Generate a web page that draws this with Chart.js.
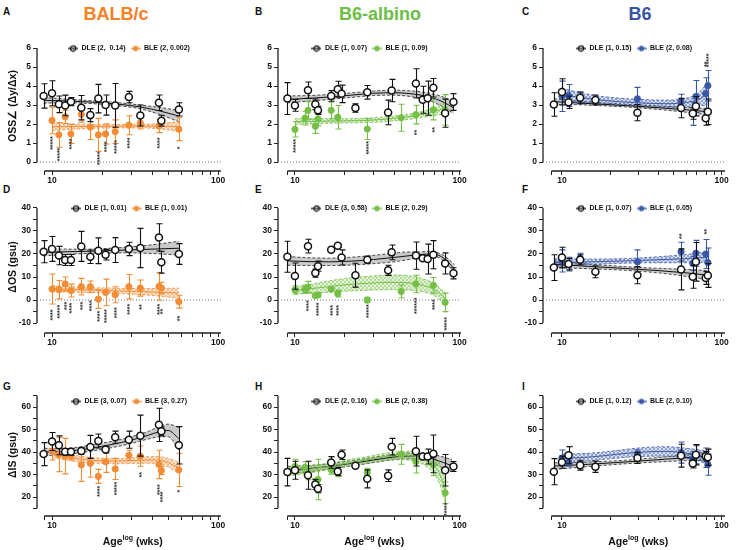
<!DOCTYPE html>
<html><head><meta charset="utf-8">
<script src="https://cdn.jsdelivr.net/npm/chart.js@4.4.1/dist/chart.umd.min.js"></script>
<style>
html,body{margin:0;padding:0;background:#fff}
#wrap{position:relative;width:736px;height:550px;overflow:hidden;font-family:"Liberation Sans",Arial,sans-serif}
.pl{position:absolute;font-weight:bold;font-size:10px;color:#111;line-height:1}
.ct{position:absolute;font-weight:bold;font-size:18px;line-height:1;transform:translateX(-50%);white-space:nowrap}
canvas{position:absolute}
</style></head><body><div id="wrap">
<div class="pl" style="left:3px;top:7px">A</div>
<div class="pl" style="left:255px;top:7px">B</div>
<div class="pl" style="left:522px;top:7px">C</div>
<div class="pl" style="left:3px;top:185px">D</div>
<div class="pl" style="left:255px;top:185px">E</div>
<div class="pl" style="left:522px;top:185px">F</div>
<div class="pl" style="left:3px;top:382px">G</div>
<div class="pl" style="left:255px;top:382px">H</div>
<div class="pl" style="left:522px;top:382px">I</div>
<div class="ct" style="left:116px;top:5px;color:#F58025">BALB/c</div>
<div class="ct" style="left:380px;top:5px;color:#6CBE45">B6-albino</div>
<div class="ct" style="left:640px;top:5px;color:#3953A5">B6</div>
</div>
<script>
// ---------- ages (weeks) ----------
const balbAgesDLE = [8.9, 10, 11, 12, 13, 15, 17, 19, 21, 24, 29, 34, 44, 45.5, 58];
const balbAgesBLE_A = [10, 11, 12, 13, 15, 17, 19, 21, 24, 29, 34, 44, 58];
const balbAgesBLE = [10, 11, 12, 13, 15, 17, 19, 21, 24, 29, 34, 44, 45.5, 58];
const b6aAgesDLE = [9, 10, 12, 13.3, 13.8, 16.6, 18.2, 19.2, 23.3, 27.5, 36.8, 38.7, 54.3, 59.7, 64, 69.3, 81.7, 91.8];
const b6aAgesBLE = [10, 11.5, 12, 13.3, 13.8, 16.6, 18.2, 27.5, 44.2, 54.3, 69.3, 81.7];
const b6AgesDLE = [8.9, 10, 11, 13, 16.2, 29.7, 55.7, 66, 69, 79.5, 82];
const b6AgesBLE = [10, 11, 13, 29.7, 55.7, 66, 69, 79.5, 82];

// ---------- tick values ----------
const xTickVals = [10, 20, 30, 40, 50, 60, 70, 80, 90, 100];
const xLabelVals = [10, 100];
const yTicksOSS = [0, 1, 2, 3, 4, 5, 6];
const yLabelsOSS = [0, 1, 2, 3, 4, 5, 6];
const yTicksOS = [-10, -5, 0, 5, 10, 15, 20, 25, 30, 35, 40];
const yLabelsOS = [-10, 0, 10, 20, 30, 40];
const yTicksIS = [15, 20, 25, 30, 35, 40, 45, 50, 55, 60, 65];
const yLabelsIS = [20, 30, 40, 50, 60];

// ---------- Panel A: OSS angle, BALB/c ----------
const A_DLE = [3.48, 3.62, 3.04, 2.98, 3.18, 2.86, 2.47, 3.34, 3.0, 2.98, 3.42, 2.45, 3.12, 2.18, 2.77];
const A_DLE_err = [0.64, 0.66, 0.44, 0.54, 0.22, 0.64, 0.34, 0.75, 0.53, 1.15, 0.3, 0.55, 0.41, 0.28, 0.35];
const A_BLE = [2.19, 1.43, 2.38, 1.48, 2.5, 1.84, 1.43, 1.48, 1.6, 1.94, 2.05, 1.9, 1.73];
const A_BLE_err = [0.7, 0.65, 0.35, 0.5, 0.4, 0.65, 0.87, 0.53, 0.62, 0.5, 0.31, 0.35, 0.6];
const A_fx_DLE = [8.9, 12, 16, 20, 26, 34, 44, 58];
const A_fit_DLE = [3.25, 3.22, 3.17, 3.12, 3.03, 2.9, 2.7, 2.42];
const A_lo_DLE = [3.1, 3.12, 3.09, 3.04, 2.95, 2.8, 2.52, 2.12];
const A_hi_DLE = [3.4, 3.32, 3.25, 3.2, 3.11, 3.0, 2.88, 2.72];
const A_fx_BLE = [10, 14, 20, 28, 40, 58];
const A_fit_BLE = [1.86, 1.87, 1.88, 1.89, 1.89, 1.87];
const A_lo_BLE = [1.66, 1.74, 1.79, 1.8, 1.78, 1.62];
const A_hi_BLE = [2.06, 2.0, 1.97, 1.98, 2.0, 2.12];
const A_starX = [10, 11, 13, 19, 21, 24, 29, 44, 58];
const A_starY = [1.0, 0.4, 0.95, 0.2, 0.8, 0.8, 1.0, 1.0, 0.75];
const A_starT = ['*****', '*****', '****', '*****', '****', '*****', '****', '****', '*'];
const A_legend = ['DLE (2,  0.14)', 'BLE (2, 0.002)'];

// ---------- Panel B: OSS angle, B6-albino ----------
const B_DLE = [3.34, 2.98, 3.78, 3.04, 2.72, 3.48, 3.83, 3.59, 2.84, 3.67, 2.61, 3.76, 4.14, 3.28, 3.36, 3.91, 2.57, 3.16];
const B_DLE_err = [0.84, 0.31, 0.43, 0.28, 0.22, 0.28, 0.42, 0.46, 0.22, 0.36, 0.65, 0.59, 0.77, 0.71, 0.9, 0.49, 0.74, 0.44];
const B_BLE = [1.72, 2.31, 2.72, 1.88, 2.27, 2.72, 2.36, 1.74, 2.33, 2.5, 2.75, 2.75];
const B_BLE_err = [0.4, 0.36, 0.46, 0.37, 0.36, 0.44, 0.62, 0.55, 0.71, 0.49, 0.53, 0.8];
const B_fx_DLE = [9, 12, 16, 22, 30, 40, 50, 60, 70, 80, 92];
const B_fit_DLE = [3.3, 3.35, 3.42, 3.52, 3.62, 3.65, 3.6, 3.5, 3.35, 3.15, 2.85];
const B_lo_DLE = [3.12, 3.2, 3.29, 3.4, 3.5, 3.52, 3.45, 3.32, 3.13, 2.88, 2.55];
const B_hi_DLE = [3.48, 3.5, 3.55, 3.64, 3.74, 3.78, 3.75, 3.68, 3.57, 3.42, 3.15];
const B_fx_BLE = [10, 14, 20, 28, 40, 55, 70, 82];
const B_fit_BLE = [2.12, 2.15, 2.17, 2.2, 2.3, 2.45, 2.65, 2.85];
const B_lo_BLE = [1.98, 2.03, 2.06, 2.08, 2.17, 2.3, 2.45, 2.55];
const B_hi_BLE = [2.28, 2.28, 2.28, 2.32, 2.43, 2.6, 2.85, 3.15];
const B_starX = [10, 27.5, 54.3, 69.3];
const B_starY = [0.85, 0.75, 1.55, 1.7];
const B_starT = ['*****', '*****', '**', '**'];
const B_legend = ['DLE (1, 0.07)', 'BLE (1, 0.09)'];

// ---------- Panel C: OSS angle, B6 ----------
const C_DLE = [3.03, 3.69, 3.15, 3.38, 3.27, 2.6, 2.84, 2.55, 2.94, 2.3, 2.65];
const C_DLE_err = [0.62, 0.69, 0.33, 0.31, 0.26, 0.43, 0.51, 0.3, 0.51, 0.36, 0.67];
const C_BLE = [3.46, 3.5, 3.4, 3.33, 3.17, 2.55, 3.45, 3.6, 4.02];
const C_BLE_err = [0.8, 0.58, 0.27, 0.6, 0.4, 0.62, 0.84, 0.84, 0.8];
const C_fx_DLE = [8.9, 12, 16, 25, 40, 60, 82];
const C_fit_DLE = [3.18, 3.12, 3.06, 2.97, 2.86, 2.75, 2.65];
const C_lo_DLE = [3.02, 3.02, 2.98, 2.9, 2.77, 2.62, 2.48];
const C_hi_DLE = [3.34, 3.22, 3.14, 3.04, 2.95, 2.88, 2.82];
const C_fx_BLE = [10, 13, 18, 30, 45, 60, 72, 82];
const C_fit_BLE = [3.55, 3.4, 3.25, 3.12, 3.07, 3.13, 3.3, 3.6];
const C_lo_BLE = [3.22, 3.15, 3.05, 2.95, 2.88, 2.9, 2.95, 3.0];
const C_hi_BLE = [3.88, 3.65, 3.45, 3.3, 3.26, 3.36, 3.65, 4.2];
const C_starX = [79.5, 82];
const C_starY = [5.15, 5.35];
const C_starT = ['**', '*****'];
const C_legend = ['DLE (1, 0.15)', 'BLE (2, 0.08)'];

// ---------- Panel D: delta OS, BALB/c ----------
const D_DLE = [21.0, 22.2, 19.3, 17.4, 17.4, 23.3, 18.8, 21.4, 19.7, 21.7, 22.2, 22.6, 27.2, 16.4, 20.0];
const D_DLE_err = [4.8, 5.4, 4.0, 2.4, 2.4, 6.5, 2.9, 5.6, 2.3, 5.4, 2.9, 8.5, 5.9, 4.7, 4.5];
const D_BLE = [4.8, 4.5, 7.0, 4.1, 5.8, 5.8, 0.4, 3.3, 2.3, 5.8, 5.2, 5.9, 5.2, -0.7];
const D_BLE_err = [6.5, 4.0, 3.0, 2.8, 3.6, 2.5, 4.0, 5.8, 3.5, 5.3, 3.5, 6.0, 2.5, 2.8];
const D_fx_DLE = [8.9, 15, 25, 40, 58];
const D_fit_DLE = [20.7, 21.1, 21.6, 22.1, 22.5];
const D_lo_DLE = [19.2, 20.1, 20.5, 20.2, 19.5];
const D_hi_DLE = [22.2, 22.1, 22.7, 24.0, 25.5];
const D_fx_BLE = [10, 15, 25, 40, 58];
const D_fit_BLE = [4.9, 4.5, 4.0, 3.5, 3.0];
const D_lo_BLE = [3.5, 3.4, 2.9, 2.0, 0.8];
const D_hi_BLE = [6.3, 5.6, 5.1, 5.0, 5.2];
const D_starX = [10, 11, 12, 13, 15, 17, 19, 21, 24, 29, 34, 44, 45.5, 58];
const D_starY = [-6.5, -5, -2.5, -3.5, -2.5, -2.5, -7, -7, -5.5, -4, -3, -4, -5, -8];
const D_starT = ['****', '*****', '***', '****', '***', '****', '****', '*****', '****', '****', '**', '****', '**', '**'];
const D_legend = ['DLE (1, 0.01)', 'BLE (1, 0.01)'];

// ---------- Panel E: delta OS, B6-albino ----------
const E_DLE = [18.8, 10.4, 23.4, 11.7, 14.7, 21.8, 23.6, 18.5, 10.8, 17.5, 12.9, 20.7, 19.3, 18.2, 17.8, 19.7, 15.9, 11.6];
const E_DLE_err = [6.7, 5.7, 3.0, 1.8, 2.2, 0.8, 0.8, 3.3, 5.2, 1.5, 2.2, 3.2, 5.9, 1.0, 6.5, 6.1, 4.6, 2.4];
const E_BLE = [4.4, 4.7, 5.6, 1.9, 2.2, 4.7, 2.8, 0, 3.7, 7.0, 6.4, -1.0];
const E_BLE_err = [1.8, 1.8, 2.5, 0.8, 0.8, 0.8, 1.5, 1.2, 2.8, 3.8, 3.4, 4.0];
const E_fx_DLE = [9, 12, 16, 22, 30, 40, 50, 57, 65, 72, 82, 93];
const E_fit_DLE = [17, 16.7, 16.6, 16.9, 17.6, 18.5, 19.3, 19.7, 20, 19.8, 17.6, 13.5];
const E_lo_DLE = [15.1, 15.0, 15.0, 15.2, 15.8, 16.6, 17.7, 18.5, 18.9, 18.8, 16.3, 11.6];
const E_hi_DLE = [18.9, 18.4, 18.2, 18.6, 19.4, 20.4, 20.9, 20.9, 21.1, 20.8, 18.9, 15.4];
const E_fx_BLE = [10, 12, 15, 20, 28, 38, 50, 60, 70, 82];
const E_fit_BLE = [4.0, 4.8, 5.6, 6.6, 7.3, 7.7, 7.4, 6.4, 4.6, 0.5];
const E_lo_BLE = [2.5, 3.0, 3.3, 3.8, 4.3, 4.5, 4.3, 3.6, 2.0, -2.0];
const E_hi_BLE = [5.5, 6.6, 7.9, 9.4, 10.3, 10.9, 10.5, 9.2, 7.2, 3.0];
const E_starX = [12, 13.8, 16.6, 18.2, 27.5, 54.3, 69.3, 81.7];
const E_starY = [-2.5, -4, -4.5, -4.5, -4.8, -2.5, -2, -10.3];
const E_starT = ['****', '*****', '****', '****', '*****', '******', '****', '*****'];
const E_legend = ['DLE (3, 0.58)', 'BLE (2, 0.29)'];

// ---------- Panel F: delta OS, B6 ----------
const F_DLE = [14.1, 18.5, 15.6, 17.5, 12.3, 10.8, 13.3, 10.1, 16.6, 9.6, 10.7];
const F_DLE_err = [5.6, 4.4, 2.5, 2.2, 2.6, 3.7, 8.9, 5.0, 8.4, 2.8, 5.2];
const F_BLE = [17.0, 15.6, 18.2, 16.6, 21.0, 15.9, 20.3, 20.0, 16.3];
const F_BLE_err = [4.8, 3.0, 2.1, 5.2, 4.1, 3.0, 5.6, 6.3, 6.3];
const F_fx_DLE = [8.9, 15, 25, 40, 60, 82];
const F_fit_DLE = [15.5, 14.6, 13.7, 12.8, 11.8, 10.8];
const F_lo_DLE = [14.0, 13.6, 12.9, 11.8, 10.3, 8.8];
const F_hi_DLE = [17.0, 15.6, 14.5, 13.8, 13.3, 12.8];
const F_fx_BLE = [8.9, 15, 25, 40, 60, 82];
const F_fit_BLE = [16.2, 16.6, 17.0, 17.5, 18.0, 18.6];
const F_lo_BLE = [14.5, 15.4, 16.0, 16.2, 16.2, 16.2];
const F_hi_BLE = [17.9, 17.8, 18.0, 18.8, 19.8, 21.0];
const F_starX = [55.7, 79.5];
const F_starY = [27.7, 29.6];
const F_starT = ['**', '**'];
const F_legend = ['DLE (1, 0.07)', 'BLE (1, 0.05)'];

// ---------- Panel G: delta IS, BALB/c ----------
const G_DLE = [39.1, 44.7, 43.0, 40.1, 40.1, 40.5, 42.3, 44.9, 41.1, 46.6, 45.5, 47.3, 52.1, 49.2, 43.0];
const G_DLE_err = [5.1, 4.0, 4.2, 1.5, 1.5, 1.5, 5.1, 3.1, 1.5, 2.7, 3.8, 9.1, 7.4, 2.0, 8.3];
const G_BLE = [40.5, 38.9, 38.2, 38.3, 34.3, 35.0, 29.2, 35.7, 32.5, 38.6, 38.2, 34.5, 31.8, 32.1];
const G_BLE_err = [4.0, 7.6, 7.9, 1.8, 7.3, 6.2, 3.1, 4.7, 4.7, 2.2, 4.5, 6.3, 1.8, 7.4];
const G_fx_DLE = [9, 11, 14, 18, 23, 30, 38, 45, 50, 58];
const G_fit_DLE = [40.0, 40.2, 40.8, 42.0, 43.4, 45.3, 47.5, 49.2, 49.6, 46.0];
const G_lo_DLE = [38.3, 38.9, 39.5, 40.6, 42.0, 43.8, 45.8, 46.8, 46.8, 41.0];
const G_hi_DLE = [41.7, 41.5, 42.1, 43.4, 44.8, 46.8, 49.2, 51.6, 52.4, 51.0];
const G_fx_BLE = [10, 12, 15, 19, 25, 32, 40, 48, 58];
const G_fit_BLE = [39.3, 38.0, 36.8, 36.2, 36.0, 36.3, 36.5, 35.8, 33.0];
const G_lo_BLE = [37.5, 36.6, 35.5, 35.0, 34.8, 35.0, 35.0, 34.0, 30.5];
const G_hi_BLE = [41.1, 39.4, 38.1, 37.4, 37.2, 37.6, 38.0, 37.6, 35.5];
const G_starX = [19, 24, 34, 44, 45.5, 58];
const G_starY = [22.6, 23.8, 29.9, 23.3, 20.1, 22.6];
const G_starT = ['****', '*****', '**', '****', '****', '*'];
const G_legend = ['DLE (3, 0.07)', 'BLE (3, 0.27)'];

// ---------- Panel H: delta IS, B6-albino ----------
const H_DLE = [31.1, 31.9, 29.7, 25.6, 23.7, 35.4, 31.4, 38.8, 33.9, 28.1, 29.5, 42.4, 40.4, 38.0, 38.0, 39.2, 31.9, 33.6];
const H_DLE_err = [6.1, 4.0, 6.2, 2.2, 1.8, 2.6, 1.8, 2.1, 0.8, 4.0, 2.6, 3.7, 6.6, 1.0, 3.3, 8.4, 7.0, 2.2];
const H_BLE = [33.6, 33.2, 30.7, 26.3, 27.8, 32.2, 31.1, 31.0, 39.0, 35.8, 34.4, 21.9];
const H_BLE_err = [3.2, 2.5, 3.0, 2.0, 9.0, 2.0, 2.0, 1.8, 4.4, 5.1, 4.8, 4.8];
const H_fx_DLE = [9, 12, 16, 22, 30, 40, 50, 60, 70, 80, 90];
const H_fit_DLE = [32.0, 32.6, 33.6, 35.0, 36.5, 37.8, 38.3, 38.0, 36.8, 35.3, 33.9];
const H_lo_DLE = [30.3, 31.2, 32.4, 33.8, 35.3, 36.6, 37.0, 36.5, 34.8, 32.8, 31.2];
const H_hi_DLE = [33.7, 34.0, 34.8, 36.2, 37.7, 39.0, 39.6, 39.5, 38.8, 37.8, 36.6];
const H_fx_BLE = [9, 12, 16, 22, 30, 40, 50, 60, 70, 76, 82];
const H_fit_BLE = [31.3, 32.3, 33.6, 35.3, 37.0, 38.3, 38.4, 37.0, 34.0, 30.0, 22.5];
const H_lo_BLE = [29.3, 30.6, 32.2, 33.8, 35.5, 36.6, 36.4, 34.5, 30.5, 25.5, 17.5];
const H_hi_BLE = [33.3, 34.0, 35.0, 36.8, 38.5, 40.0, 40.4, 39.5, 37.5, 34.5, 27.5];
const H_starX = [81.7];
const H_starY = [14.6];
const H_starT = ['*****'];
const H_legend = ['DLE (2, 0.16)', 'BLE (2, 0.38)'];

// ---------- Panel I: delta IS, B6 ----------
const I_DLE = [31.3, 35.5, 38.6, 34.2, 33.5, 37.4, 38.4, 34.9, 38.8, 38.1, 37.7];
const I_DLE_err = [5.8, 2.7, 3.8, 2.2, 2.5, 2.5, 5.1, 2.0, 4.5, 2.2, 3.6];
const I_BLE = [37.3, 35.5, 34.1, 39.2, 39.8, 36.9, 38.8, 37.5, 34.4];
const I_BLE_err = [3.6, 1.8, 1.5, 1.8, 4.7, 3.2, 4.0, 4.3, 4.7];
const I_fx_DLE = [8.9, 15, 25, 40, 60, 82];
const I_fit_DLE = [33.8, 34.6, 35.6, 36.6, 37.5, 38.2];
const I_lo_DLE = [32.3, 33.6, 34.8, 35.6, 36.2, 36.3];
const I_hi_DLE = [35.3, 35.6, 36.4, 37.6, 38.8, 40.1];
const I_fx_BLE = [10, 15, 22, 30, 45, 60, 72, 82];
const I_fit_BLE = [37.1, 37.8, 39.0, 39.9, 40.3, 39.5, 38.5, 37.3];
const I_lo_BLE = [35.1, 36.1, 37.3, 38.0, 38.2, 37.3, 36.0, 34.5];
const I_hi_BLE = [39.1, 39.5, 40.7, 41.8, 42.4, 41.7, 41.0, 40.1];
const I_starX = [];
const I_starY = [];
const I_starT = [];
const I_legend = ['DLE (1, 0.12)', 'BLE (2, 0.10)'];

// ---------- layout & style ----------
const FONT = '"Liberation Sans", Arial, Helvetica, sans-serif';
const ORANGE = '#F28C35', GREEN = '#74BF45', BLUE = '#3A58A8';
const COLS = [
  {cx: 0, cw: 245, left: 37, right: 221, xmin: 8.12, xmax: 104, xStart: 9},
  {cx: 245, cw: 245, left: 278, right: 461, xmin: 7.89, xmax: 102, xStart: 9},
  {cx: 490, cw: 246, left: 543, right: 725, xmin: 7.61, xmax: 105, xStart: 8.6}
];
const ROWS = [
  {cy: 25, ch: 165, top: 41, bottom: 171, ymin: -0.47, ymax: 6.37, ticks: yTicksOSS, labels: yLabelsOSS, axis: [0, 6], zero: true, title: 'OSS\u2220 (\u0394y/\u0394x)'},
  {cy: 190, ch: 170, top: 201, bottom: 333, ymin: -14.3, ymax: 43, ticks: yTicksOS, labels: yLabelsOS, axis: [-10, 40], zero: true, title: '\u0394OS (gsu)'},
  {cy: 385, ch: 165, top: 394, bottom: 516, ymin: 11.6, ymax: 65.8, ticks: yTicksIS, labels: yLabelsIS, axis: [15, 65], zero: false, title: '\u0394IS (gsu)', xtitle: true}
];

const PANELS = [
  {col:0,row:0,color:ORANGE,ageD:balbAgesDLE,ageB:balbAgesBLE_A,dle:A_DLE,dleE:A_DLE_err,ble:A_BLE,bleE:A_BLE_err,fxD:A_fx_DLE,fitD:A_fit_DLE,loD:A_lo_DLE,hiD:A_hi_DLE,fxB:A_fx_BLE,fitB:A_fit_BLE,loB:A_lo_BLE,hiB:A_hi_BLE,sx:A_starX,sy:A_starY,st:A_starT,leg:A_legend},
  {col:1,row:0,color:GREEN,ageD:b6aAgesDLE,ageB:b6aAgesBLE,dle:B_DLE,dleE:B_DLE_err,ble:B_BLE,bleE:B_BLE_err,fxD:B_fx_DLE,fitD:B_fit_DLE,loD:B_lo_DLE,hiD:B_hi_DLE,fxB:B_fx_BLE,fitB:B_fit_BLE,loB:B_lo_BLE,hiB:B_hi_BLE,sx:B_starX,sy:B_starY,st:B_starT,leg:B_legend},
  {col:2,row:0,color:BLUE,ageD:b6AgesDLE,ageB:b6AgesBLE,dle:C_DLE,dleE:C_DLE_err,ble:C_BLE,bleE:C_BLE_err,fxD:C_fx_DLE,fitD:C_fit_DLE,loD:C_lo_DLE,hiD:C_hi_DLE,fxB:C_fx_BLE,fitB:C_fit_BLE,loB:C_lo_BLE,hiB:C_hi_BLE,sx:C_starX,sy:C_starY,st:C_starT,leg:C_legend},
  {col:0,row:1,color:ORANGE,ageD:balbAgesDLE,ageB:balbAgesBLE,dle:D_DLE,dleE:D_DLE_err,ble:D_BLE,bleE:D_BLE_err,fxD:D_fx_DLE,fitD:D_fit_DLE,loD:D_lo_DLE,hiD:D_hi_DLE,fxB:D_fx_BLE,fitB:D_fit_BLE,loB:D_lo_BLE,hiB:D_hi_BLE,sx:D_starX,sy:D_starY,st:D_starT,leg:D_legend},
  {col:1,row:1,color:GREEN,ageD:b6aAgesDLE,ageB:b6aAgesBLE,dle:E_DLE,dleE:E_DLE_err,ble:E_BLE,bleE:E_BLE_err,fxD:E_fx_DLE,fitD:E_fit_DLE,loD:E_lo_DLE,hiD:E_hi_DLE,fxB:E_fx_BLE,fitB:E_fit_BLE,loB:E_lo_BLE,hiB:E_hi_BLE,sx:E_starX,sy:E_starY,st:E_starT,leg:E_legend},
  {col:2,row:1,color:BLUE,ageD:b6AgesDLE,ageB:b6AgesBLE,dle:F_DLE,dleE:F_DLE_err,ble:F_BLE,bleE:F_BLE_err,fxD:F_fx_DLE,fitD:F_fit_DLE,loD:F_lo_DLE,hiD:F_hi_DLE,fxB:F_fx_BLE,fitB:F_fit_BLE,loB:F_lo_BLE,hiB:F_hi_BLE,sx:F_starX,sy:F_starY,st:F_starT,leg:F_legend},
  {col:0,row:2,color:ORANGE,ageD:balbAgesDLE,ageB:balbAgesBLE,dle:G_DLE,dleE:G_DLE_err,ble:G_BLE,bleE:G_BLE_err,fxD:G_fx_DLE,fitD:G_fit_DLE,loD:G_lo_DLE,hiD:G_hi_DLE,fxB:G_fx_BLE,fitB:G_fit_BLE,loB:G_lo_BLE,hiB:G_hi_BLE,sx:G_starX,sy:G_starY,st:G_starT,leg:G_legend},
  {col:1,row:2,color:GREEN,ageD:b6aAgesDLE,ageB:b6aAgesBLE,dle:H_DLE,dleE:H_DLE_err,ble:H_BLE,bleE:H_BLE_err,fxD:H_fx_DLE,fitD:H_fit_DLE,loD:H_lo_DLE,hiD:H_hi_DLE,fxB:H_fx_BLE,fitB:H_fit_BLE,loB:H_lo_BLE,hiB:H_hi_BLE,sx:H_starX,sy:H_starY,st:H_starT,leg:H_legend},
  {col:2,row:2,color:BLUE,ageD:b6AgesDLE,ageB:b6AgesBLE,dle:I_DLE,dleE:I_DLE_err,ble:I_BLE,bleE:I_BLE_err,fxD:I_fx_DLE,fitD:I_fit_DLE,loD:I_lo_DLE,hiD:I_hi_DLE,fxB:I_fx_BLE,fitB:I_fit_BLE,loB:I_lo_BLE,hiB:I_hi_BLE,sx:I_starX,sy:I_starY,st:I_starT,leg:I_legend}
];

function pts(xs, ys) { return xs.map((x, i) => ({x: x, y: ys[i]})); }
function rgba(hex, a) {
  const n = parseInt(hex.slice(1), 16);
  return 'rgba(' + (n >> 16) + ',' + ((n >> 8) & 255) + ',' + (n & 255) + ',' + a + ')';
}
function hatch(ctx, color) {
  const c = document.createElement('canvas'); c.width = 4; c.height = 4;
  const g = c.getContext('2d');
  g.fillStyle = rgba(color, 0.18); g.fillRect(0, 0, 4, 4);
  g.strokeStyle = rgba(color, 0.75); g.lineWidth = 0.6;
  g.beginPath(); g.moveTo(0, 4); g.lineTo(4, 0); g.moveTo(0, 0); g.lineTo(4, 4); g.stroke();
  return ctx.createPattern(c, 'repeat');
}
function marker(stroke, fill, open) {
  const c = document.createElement('canvas'); c.width = 10; c.height = 8;
  const g = c.getContext('2d');
  g.strokeStyle = stroke; g.lineWidth = 1.3;
  g.beginPath(); g.moveTo(0, 4); g.lineTo(10, 4); g.stroke();
  g.beginPath(); g.arc(5, 4, 2.7, 0, Math.PI * 2);
  if (open) { g.lineWidth = 1.2; g.stroke(); } else { g.fillStyle = fill; g.fill(); }
  return c;
}

// ---------- plugins ----------
const errPlugin = {
  id: 'errbars',
  beforeDatasetDraw(chart, args) {
    const ds = chart.data.datasets[args.index];
    if (!ds.errs) return;
    const ys = chart.scales.y, ctx = chart.ctx;
    ctx.save(); ctx.strokeStyle = ds.errColor; ctx.lineWidth = 1.1;
    args.meta.data.forEach((el, i) => {
      const d = ds.data[i], e = ds.errs[i];
      if (e == null) return;
      const x = Math.round(el.x) + 0.5;
      const y1 = ys.getPixelForValue(d.y + e), y2 = ys.getPixelForValue(d.y - e);
      ctx.beginPath();
      ctx.moveTo(x, y1); ctx.lineTo(x, y2);
      ctx.moveTo(x - 3, y1); ctx.lineTo(x + 3, y1);
      ctx.moveTo(x - 3, y2); ctx.lineTo(x + 3, y2);
      ctx.stroke();
    });
    ctx.restore();
  }
};
const starPlugin = {
  id: 'stars',
  afterDatasetsDraw(chart, args, o) {
    if (!o.xs || !o.xs.length) return;
    const ctx = chart.ctx;
    ctx.save(); ctx.fillStyle = '#333'; ctx.font = 'bold 7px ' + FONT;
    ctx.textAlign = 'center'; ctx.textBaseline = 'middle';
    o.xs.forEach((xv, i) => {
      const x = chart.scales.x.getPixelForValue(xv), y = chart.scales.y.getPixelForValue(o.ys[i]);
      ctx.save(); ctx.translate(x, y); ctx.rotate(-Math.PI / 2);
      ctx.fillText(o.ts[i], 0, 1.5); ctx.restore();
    });
    ctx.restore();
  }
};
const axisPlugin = {
  id: 'axislines',
  beforeDatasetsDraw(chart, args, o) {
    const ctx = chart.ctx, ca = chart.chartArea, xs = chart.scales.x, ys = chart.scales.y;
    ctx.save(); ctx.strokeStyle = '#222'; ctx.lineWidth = 1.3;
    ctx.beginPath();
    ctx.moveTo(ca.left, ys.getPixelForValue(o.yTop)); ctx.lineTo(ca.left, ys.getPixelForValue(o.yBot));
    ctx.moveTo(xs.getPixelForValue(o.xStart), ca.bottom); ctx.lineTo(ca.right, ca.bottom);
    ctx.stroke(); ctx.restore();
  }
};
const xTitlePlugin = {
  id: 'xtitle',
  afterDraw(chart, args, o) {
    if (!o.show) return;
    const ctx = chart.ctx, ca = chart.chartArea, xs = chart.scales.x;
    const big = 'bold 10.5px ' + FONT, small = 'bold 7px ' + FONT;
    ctx.save(); ctx.fillStyle = '#111'; ctx.textBaseline = 'alphabetic'; ctx.textAlign = 'left';
    ctx.font = big; const w1 = ctx.measureText('Age').width, w3 = ctx.measureText(' (wks)').width;
    ctx.font = small; const w2 = ctx.measureText('log').width;
    const mid = (xs.getPixelForValue(o.xStart) + ca.right) / 2;
    let x = mid - (w1 + w2 + w3) / 2;
    ctx.font = big; ctx.fillText('Age', x, o.y); x += w1;
    ctx.font = small; ctx.fillText('log', x, o.y - 5); x += w2;
    ctx.font = big; ctx.fillText(' (wks)', x, o.y);
    ctx.restore();
  }
};
const legendOverlap = {
  id: 'legendOverlap',
  beforeUpdate(chart) {
    const lg = chart.legend;
    if (lg && !lg._patched) {
      const fit = lg.fit.bind(lg);
      lg.fit = function () { fit(); this._realH = this.height; this.height = 0; };
      lg._patched = true;
    }
  },
  afterLayout(chart) {
    const lg = chart.legend; if (!lg) return;
    const ca = chart.chartArea;
    lg.left = ca.left; lg.right = ca.right; lg.width = ca.right - ca.left;
    lg.top = ca.top - 1; lg.height = lg._realH || 20; lg.bottom = lg.top + lg.height;
  }
};

Chart.defaults.font.family = FONT;

function makePanel(p) {
  const col = COLS[p.col], row = ROWS[p.row];
  const cv = document.createElement('canvas');
  cv.width = col.cw; cv.height = row.ch;
  cv.style.left = col.cx + 'px'; cv.style.top = row.cy + 'px';
  cv.style.width = col.cw + 'px'; cv.style.height = row.ch + 'px';
  document.getElementById('wrap').appendChild(cv);
  const ctx = cv.getContext('2d');
  const color = p.color;
  const lineBase = {showLine: true, pointRadius: 0, cubicInterpolationMode: 'monotone', fill: false};
  const datasets = [
    {label: 'DLE', data: pts(p.ageD, p.dle), errs: p.dleE, errColor: '#111', pointStyle: 'circle', pointRadius: 3.5,
     pointBackgroundColor: '#fff', pointBorderColor: '#111', pointBorderWidth: 1.5, showLine: false, order: 0},
    {label: 'BLE', data: pts(p.ageB, p.ble), errs: p.bleE, errColor: color, pointStyle: 'circle', pointRadius: 3.1,
     pointBackgroundColor: color, pointBorderColor: color, pointBorderWidth: 1, showLine: false, order: 1},
    Object.assign({}, lineBase, {label: 'dlo', data: pts(p.fxD, p.loD), borderColor: '#222', borderWidth: 0.8, borderDash: [3, 2], order: 6}),
    Object.assign({}, lineBase, {label: 'dhi', data: pts(p.fxD, p.hiD), borderColor: '#222', borderWidth: 0.8, borderDash: [3, 2], fill: '-1', backgroundColor: 'rgba(128,128,128,0.42)', order: 6}),
    Object.assign({}, lineBase, {label: 'dfit', data: pts(p.fxD, p.fitD), borderColor: '#111', borderWidth: 1, order: 4}),
    Object.assign({}, lineBase, {label: 'blo', data: pts(p.fxB, p.loB), borderColor: color, borderWidth: 0.8, borderDash: [3, 2], order: 5}),
    Object.assign({}, lineBase, {label: 'bhi', data: pts(p.fxB, p.hiB), borderColor: color, borderWidth: 0.8, borderDash: [3, 2], fill: '-1', backgroundColor: hatch(ctx, color), order: 5}),
    Object.assign({}, lineBase, {label: 'bfit', data: pts(p.fxB, p.fitB), borderColor: color, borderWidth: 1, order: 3})
  ];
  if (row.zero) {
    datasets.push(Object.assign({}, lineBase, {label: 'zero', data: [{x: col.xmin, y: 0}, {x: col.xmax, y: 0}], borderColor: '#777', borderWidth: 1, borderDash: [1, 2], order: 10, cubicInterpolationMode: 'default'}));
  }
  const mkDLE = marker('#111', '#fff', true), mkBLE = marker(color, color, false);
  const tickFont = {family: FONT, size: 8.5, weight: 'bold'};
  new Chart(ctx, {
    type: 'scatter',
    data: {datasets: datasets},
    plugins: [legendOverlap, errPlugin, starPlugin, axisPlugin, xTitlePlugin],
    options: {
      responsive: false, animation: false, events: [], devicePixelRatio: 1,
      layout: {padding: {left: 0, right: col.cx + col.cw - col.right, top: row.top - row.cy, bottom: 0}},
      scales: {
        x: {
          type: 'logarithmic', min: col.xmin, max: col.xmax,
          afterBuildTicks: s => { s.ticks = [col.xStart].concat(xTickVals).map(v => ({value: v})); },
          afterFit: s => { s.height = row.cy + row.ch - row.bottom; },
          ticks: {autoSkip: false, maxRotation: 0, minRotation: 0, padding: 1, color: '#111', font: tickFont,
                  callback: v => xLabelVals.includes(v) ? String(v) : ''},
          grid: {drawOnChartArea: false, drawTicks: true, tickLength: 4, color: '#222', tickColor: '#222', tickWidth: 1},
          border: {display: false}
        },
        y: {
          type: 'linear', min: row.ymin, max: row.ymax,
          afterBuildTicks: s => { s.ticks = row.ticks.map(v => ({value: v})); },
          afterFit: s => { s.width = col.left - col.cx; },
          ticks: {autoSkip: false, padding: 2, color: '#111', font: tickFont,
                  callback: v => row.labels.includes(v) ? String(v) : ''},
          grid: {drawOnChartArea: false, drawTicks: true, tickLength: 4, color: '#222', tickColor: '#222', tickWidth: 1},
          border: {display: false},
          title: {display: p.col === 0, text: row.title, color: '#111', font: {family: FONT, size: 10.5, weight: 'bold'}, padding: {top: 7, bottom: 0}}
        }
      },
      plugins: {
        tooltip: {enabled: false},
        title: {display: false},
        legend: {
          display: true, position: 'top', fullSize: false, align: 'center',
          labels: {
            usePointStyle: true, pointStyleWidth: 10, boxHeight: 7, padding: 5, color: '#111',
            font: {family: FONT, size: 7, weight: 'bold'},
            generateLabels: () => [
              {text: p.leg[0], pointStyle: mkDLE, fontColor: '#111', fillStyle: 'rgba(0,0,0,0)', strokeStyle: 'rgba(0,0,0,0)', lineWidth: 0, hidden: false, datasetIndex: 0},
              {text: p.leg[1], pointStyle: mkBLE, fontColor: '#111', fillStyle: 'rgba(0,0,0,0)', strokeStyle: 'rgba(0,0,0,0)', lineWidth: 0, hidden: false, datasetIndex: 1}
            ]
          }
        },
        stars: {xs: p.sx, ys: p.sy, ts: p.st},
        axislines: {yTop: row.axis[1], yBot: row.axis[0], xStart: col.xStart},
        xtitle: {show: !!row.xtitle, y: 545 - row.cy, xStart: col.xStart}
      }
    }
  });
}
PANELS.forEach(makePanel);
</script>
</body></html>
